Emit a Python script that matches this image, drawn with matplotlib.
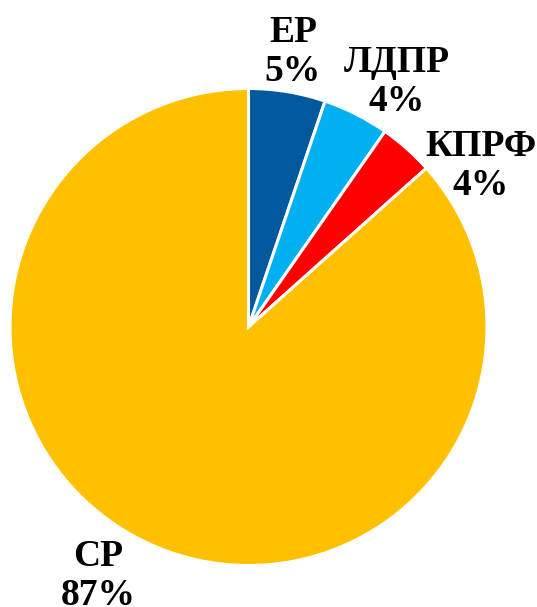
import matplotlib.pyplot as plt

# данные по партиям
parties = ['ЕР', 'ЛДПР', 'КПРФ', 'СР']
shares = [5.2, 4.5, 3.7, 86.6]
share_labels = ['5%', '4%', '4%', '87%']
colors = ['#00599C', '#00B0F0', '#FF0000', '#FFC000']

# позиции подписей в пикселях (x, y от верхнего края)
label_pos = [(293, 52), (397, 82), (481, 166), (98, 576)]

W, H = 537, 607
fig = plt.figure(figsize=(W / 100, H / 100), dpi=100)
ax = fig.add_axes([0, 0, 1, 1])

ax.pie(shares, colors=colors, startangle=90, counterclock=False,
       center=(248.5, H - 327), radius=238.5,
       wedgeprops=dict(edgecolor='white', linewidth=2.2))

# pie меняет пределы осей, поэтому задаём их после
ax.set_xlim(0, W)
ax.set_ylim(0, H)
ax.set_aspect('equal')
ax.axis('off')

for name, pct, (x, y) in zip(parties, share_labels, label_pos):
    ax.text(x, H - y, f'{name}\n{pct}', ha='center', va='center',
            fontsize=27, fontweight='bold', family='Liberation Serif',
            linespacing=1.12, clip_on=False)

fig.savefig('out.png', dpi=100)
